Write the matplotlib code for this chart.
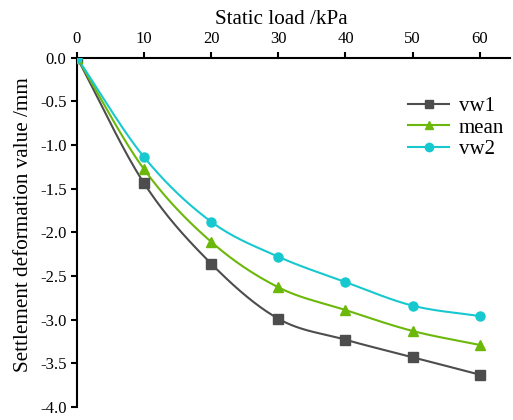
import numpy as np
import matplotlib
matplotlib.use("Agg")
import matplotlib.pyplot as plt

plt.rcParams['font.family'] = ['Liberation Serif', 'DejaVu Serif']

load = [0, 10, 20, 30, 40, 50, 60]
vw1 = [0.0, -1.44, -2.36, -2.99, -3.23, -3.43, -3.63]
mean = [0.0, -1.28, -2.11, -2.63, -2.89, -3.13, -3.29]
vw2 = [0.0, -1.14, -1.88, -2.28, -2.57, -2.84, -2.96]
xticks = [0, 10, 20, 30, 40, 50, 60]
yticks = [0.0, -0.5, -1.0, -1.5, -2.0, -2.5, -3.0, -3.5, -4.0]


def smooth(x, y, n=30):
    """Cubic Hermite rendering of the polyline for drawing a smooth connector."""
    x = np.asarray(x, float)
    y = np.asarray(y, float)
    m = np.zeros_like(y)
    m[1:-1] = (y[2:] - y[:-2]) / (x[2:] - x[:-2])
    m[0] = (y[1] - y[0]) / (x[1] - x[0])
    m[-1] = (y[-1] - y[-2]) / (x[-1] - x[-2])
    xs, ys = [], []
    for i in range(len(x) - 1):
        h = x[i + 1] - x[i]
        t = np.linspace(0, 1, n, endpoint=False)
        h00 = 2 * t**3 - 3 * t**2 + 1
        h10 = t**3 - 2 * t**2 + t
        h01 = -2 * t**3 + 3 * t**2
        h11 = t**3 - t**2
        xs.append(x[i] + t * h)
        ys.append(h00 * y[i] + h10 * h * m[i] + h01 * y[i + 1] + h11 * h * m[i + 1])
    xs.append([x[-1]])
    ys.append([y[-1]])
    return np.concatenate(xs), np.concatenate(ys)


fig = plt.figure(figsize=(5.13, 4.2), dpi=100)
ax = fig.add_axes([0.150, 0.031, 0.844, 0.832])

series = [
    ("vw1", vw1, "#4d4d4d", "s"),
    ("mean", mean, "#6cb80a", "^"),
    ("vw2", vw2, "#17c9cf", "o"),
]
for name, vals, col, mk in series:
    sx, sy = smooth(load, vals)
    ax.plot(sx, sy, color=col, lw=1.5, zorder=2)
    ax.plot(load, vals, ls='none', marker=mk, color=col, ms=6.5, zorder=3)
    ax.plot([], [], color=col, lw=1.5, marker=mk, ms=6, label=name)

ax.set_xlim(0, 64.5)
ax.set_ylim(-4.0, 0.0)
ax.xaxis.tick_top()
ax.xaxis.set_label_position('top')
ax.set_xticks(xticks)
ax.set_yticks(yticks)
ax.set_yticklabels([f"{v:.1f}" for v in yticks])
for s in ['right', 'bottom']:
    ax.spines[s].set_visible(False)
for s in ['top', 'left']:
    ax.spines[s].set_linewidth(1.5)
ax.tick_params(axis='both', direction='out', width=1.5, length=4.5, labelsize=12, pad=3)
ax.set_xlabel("Static load /kPa", fontsize=15.2, labelpad=5)
ax.set_ylabel("Settlement deformation value /mm", fontsize=15.2, labelpad=5)
ax.xaxis.label.set_x(0.471)
ax.yaxis.label.set_y(0.521)

ax.legend(loc='upper left', bbox_to_anchor=(0.764, 0.889), frameon=False,
          borderpad=0, borderaxespad=0,
          fontsize=15, handlelength=2.0, handletextpad=0.45, labelspacing=0.1)

fig.savefig("out.png", dpi=100)
